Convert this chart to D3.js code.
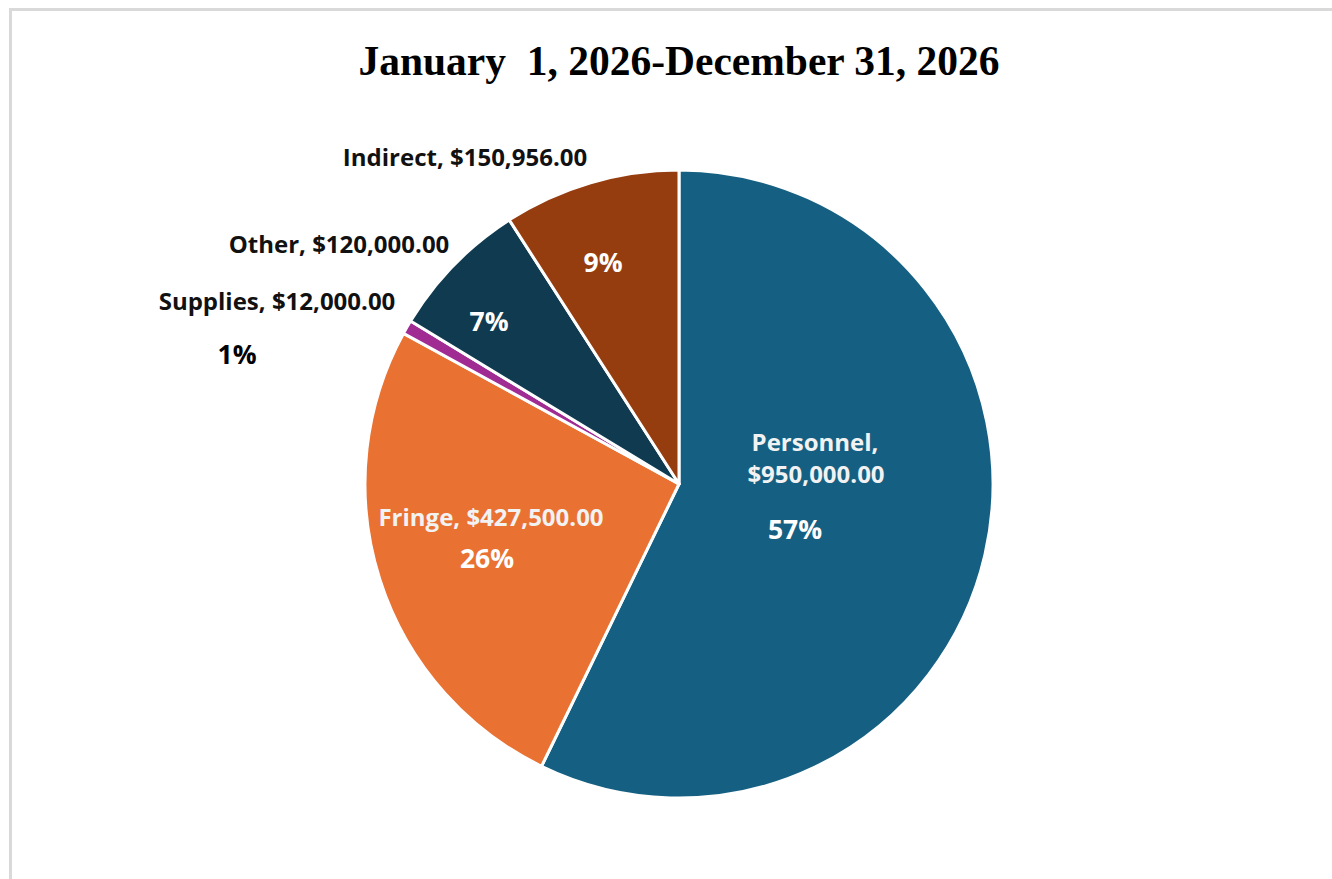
<!DOCTYPE html>
<html>
<head>
<meta charset="utf-8">
<script src="https://cdn.jsdelivr.net/npm/d3@7"></script>
<style>
  html, body { margin: 0; padding: 0; background: #fff; }
  svg { display: block; }
</style>
</head>
<body>
<div id="chart"></div>
<script>
// Budget categories, in the order Excel draws them (clockwise from 12 o'clock)
const CATEGORIES = ['Personnel', 'Fringe', 'Supplies', 'Other', 'Indirect'];
const AMOUNTS = [950000, 427500, 12000, 120000, 150956];
const COLORS = ['#156082', '#e97132', '#a02b93', '#0f3a50', '#963d10'];
const TITLE = 'January  1, 2026-December 31, 2026';

const WIDTH = 1332;
const HEIGHT = 879;
const CX = 679;
const CY = 484;
const RADIUS = 314;

// Where each data label sits, relative to the pie centre (name line(s), then percent)
const LABEL_LAYOUT = {
    Personnel: { name: [[136, -43, 'Personnel,'], [137, -11, '$950,000.00']], pct: [116, 45], color: '#f2f2f2', pctColor: '#fff' },
    Fringe:    { name: [[-188, 32, null]], pct: [-192, 74], color: '#f2f2f2', pctColor: '#fff' },
    Supplies:  { name: [[-402, -184, null]], pct: [-442, -130], color: '#111', pctColor: '#000' },
    Other:     { name: [[-340, -241, null]], pct: [-190, -163], color: '#111', pctColor: '#fff' },
    Indirect:  { name: [[-214, -328, null]], pct: [-76, -222], color: '#111', pctColor: '#fff' }
};

const fmtMoney = d3.format('$,.2f');
const fmtPct = d3.format('.0%');
const total = d3.sum(AMOUNTS);

const data = CATEGORIES.map((c, i) => ({ name: c, value: AMOUNTS[i], color: COLORS[i] }));

const svg = d3.select('#chart')
    .append('svg')
    .attr('width', WIDTH)
    .attr('height', HEIGHT);

// light frame of the chart area
svg.append('path')
    .attr('d', `M10.5,${HEIGHT} L10.5,9.5 L${WIDTH},9.5`)
    .attr('fill', 'none')
    .attr('stroke', '#d9d9d9')
    .attr('stroke-width', 3);

svg.append('text')
    .attr('x', CX)
    .attr('y', 75)
    .attr('text-anchor', 'middle')
    .attr('font-family', '"Liberation Serif", "Times New Roman", serif')
    .attr('font-weight', 'bold')
    .attr('font-size', '41.5px')
    .attr('fill', '#000')
    .style('white-space', 'pre')
    .text(TITLE);

const pie = d3.pie().value(d => d.value).sort(null);
const arc = d3.arc().innerRadius(0).outerRadius(RADIUS);

const g = svg.append('g').attr('transform', `translate(${CX},${CY})`);

g.selectAll('path.slice')
    .data(pie(data))
    .enter()
    .append('path')
    .attr('class', 'slice')
    .attr('d', arc)
    .attr('fill', d => d.data.color)
    .attr('stroke', '#fff')
    .attr('stroke-width', 3)
    .attr('stroke-linejoin', 'round');

// data labels
data.forEach(d => {
    const lay = LABEL_LAYOUT[d.name];
    lay.name.forEach(([x, y, txt]) => {
        g.append('text')
            .attr('x', x)
            .attr('y', y)
            .attr('text-anchor', 'middle')
            .attr('dominant-baseline', 'central')
            .attr('font-family', '"Open Sans", "Noto Sans", sans-serif')
            .attr('font-weight', 'bold')
            .attr('font-size', '24px')
            .attr('fill', lay.color)
            .text(txt || `${d.name}, ${fmtMoney(d.value)}`);
    });
    g.append('text')
        .attr('x', lay.pct[0])
        .attr('y', lay.pct[1])
        .attr('text-anchor', 'middle')
        .attr('dominant-baseline', 'central')
        .attr('font-family', '"Open Sans", "Noto Sans", sans-serif')
        .attr('font-weight', 'bold')
        .attr('font-size', '26.5px')
        .attr('fill', lay.pctColor)
        .text(fmtPct(d.value / total));
});
</script>
</body>
</html>
